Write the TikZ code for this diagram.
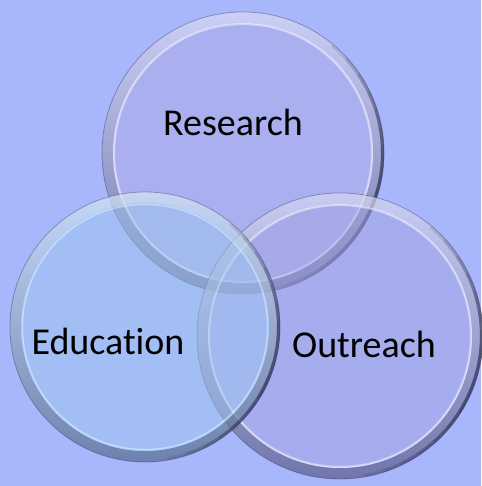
\documentclass[tikz,border=0pt]{standalone}
\usepackage{fontspec}
\setmainfont[Ligatures=NoCommon]{Carlito}
\usetikzlibrary{calc}
\definecolor{bgcol}{RGB}{168,182,252}
\definecolor{rescol}{RGB}{172,170,230}
\definecolor{educol}{RGB}{158,198,238}
\definecolor{outcol}{RGB}{164,166,228}
\definecolor{rimdark}{RGB}{35,38,70}
\tikzset{
  lensfill/.style={fill=#1, fill opacity=0.5, draw=none},
  lensrim/.style={even odd rule, shading angle=40, top color=white, middle color=#1, bottom color=rimdark, fill opacity=0.4, draw=none},
  innerline/.style={draw=white, line width=1.4pt, draw opacity=0.4},
  outerline/.style={draw=rimdark, line width=0.8pt, draw opacity=0.35},
  shadowarc/.style={draw=rimdark, line width=3pt, draw opacity=0.13, line cap=round},
  lbl/.style={font=\fontsize{38}{40}\selectfont, text=black, anchor=base, inner sep=0pt}
}
\newcommand{\lens}[4]{%
  \fill[lensfill=#3] (#1) circle (#2);
  \shade[lensrim=#3] (#1) circle (#2) (#1) circle ({#2-11});
  \draw[#4, line width=1pt, draw opacity=0.6] (#1) circle ({#2-11.5});
  \draw[innerline] (#1) circle ({#2-12.5});
  \draw[outerline] (#1) circle (#2);
  \foreach \k in {0,...,6}{
    \draw[shadowarc] ($(#1)+({-80+8*\k}:{#2-1.5})$) arc ({-80+8*\k}:{50-8*\k}:{#2-1.5});
  }
}
\begin{document}
\begin{tikzpicture}[x=1pt,y=1pt]
\useasboundingbox (0,0) rectangle (481,486);
\fill[bgcol] (0,0) rectangle (481,486);
\coordinate (cres) at (243,333);
\coordinate (cout) at (340,150);
\coordinate (cedu) at (145,159);
\lens{cres}{141}{rescol}{white}
\lens{cout}{143}{outcol}{white}
\lens{cedu}{135}{educol}{cyan!40!white}
\node[lbl] (research) at (233,350) {Research};
\node[lbl] (outreach) at (364,128) {Outreach};
\node[lbl] (education) at (108,131) {Education};
\end{tikzpicture}
\end{document}
